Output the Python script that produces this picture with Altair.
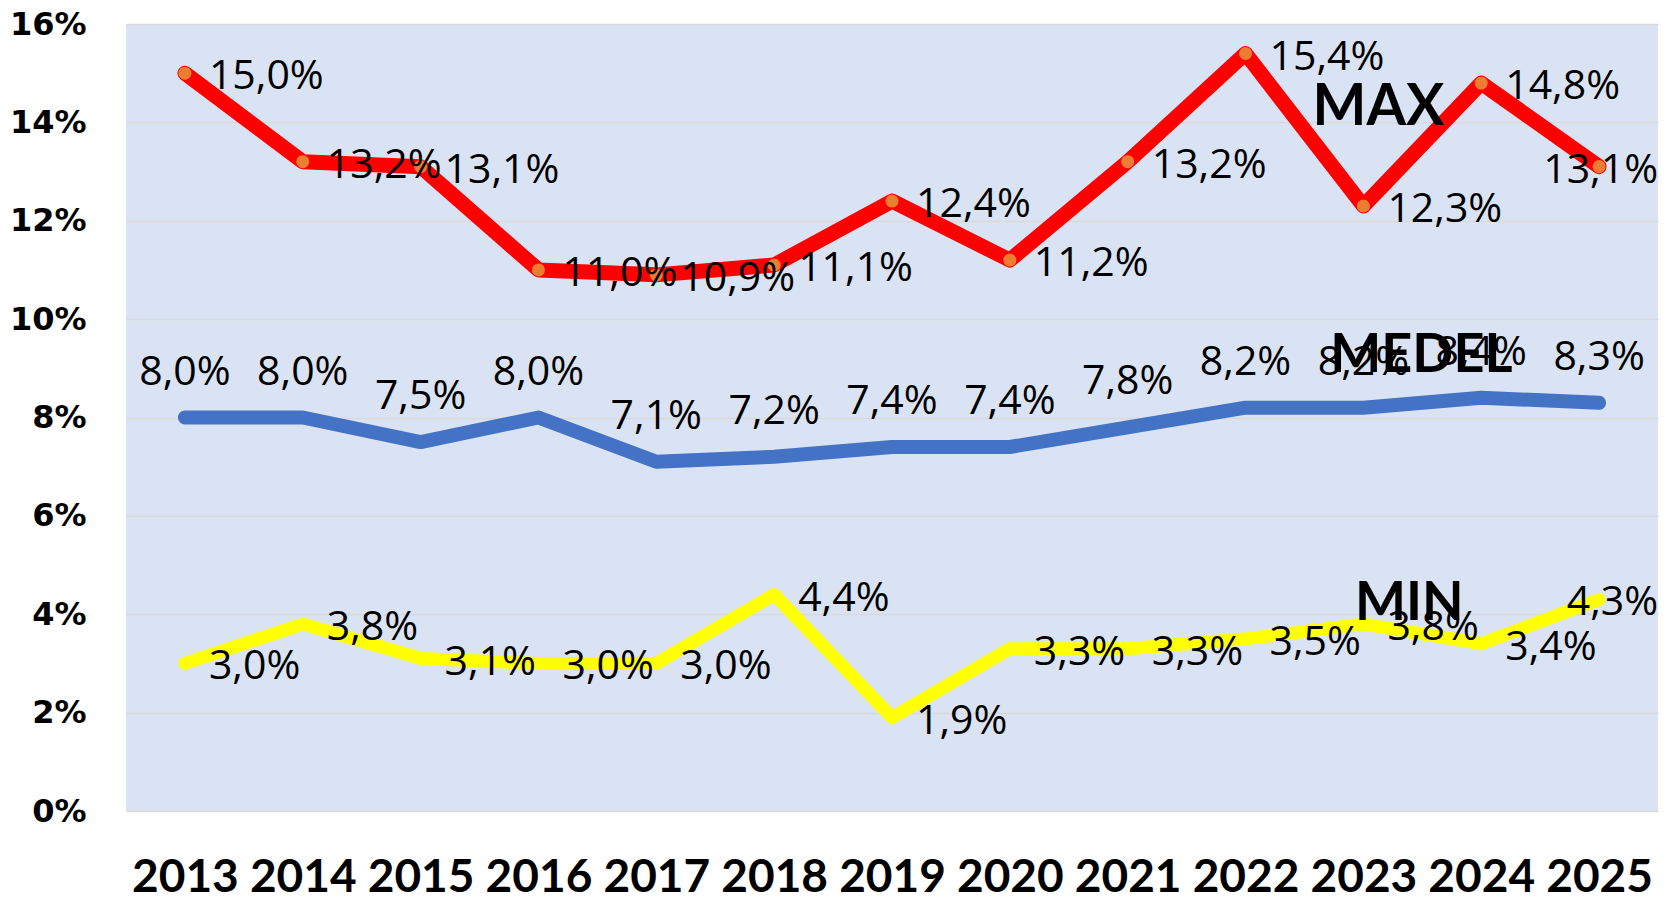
import altair as alt
import pandas as pd

years = [str(y) for y in range(2013, 2026)]
max_vals = [15.0, 13.2, 13.1, 11.0, 10.9, 11.1, 12.4, 11.2, 13.2, 15.4, 12.3, 14.8, 13.1]
medel_vals = [8.0, 8.0, 7.5, 8.0, 7.1, 7.2, 7.4, 7.4, 7.8, 8.2, 8.2, 8.4, 8.3]
min_vals = [3.0, 3.8, 3.1, 3.0, 3.0, 4.4, 1.9, 3.3, 3.3, 3.5, 3.8, 3.4, 4.3]
y_ticks = [0, 2, 4, 6, 8, 10, 12, 14, 16]

series_names = ["MAX", "MEDEL", "MIN"]
series_colors = ["#FF0000", "#4472C4", "#FFFF00"]
series_widths = [15, 13, 13]
name_years = ["2023", "2023", "2023"]
name_vals = [14.3, 9.25, 4.2]
name_dx = [15, 58, 46]
name_sizes = [57, 54, 54]

rows = []
for name, vals in zip(series_names, [max_vals, medel_vals, min_vals]):
    for yr, v in zip(years, vals):
        rows.append({"yr": yr, "series": name, "val": v,
                     "lbl": f"{v:.1f}".replace(".", ",") + "%"})
df = pd.DataFrame(rows)

x_enc = alt.X("yr:O", sort=years,
              scale=alt.Scale(type="point", padding=0.5),
              axis=alt.Axis(title=None, labelAngle=0, ticks=False, tickSize=0, domain=False,
                            grid=False, labelFont="Lato", labelFontWeight="bold",
                            labelFontSize=46, labelColor="#000000",
                            labelBaseline="middle", labelPadding=66))
y_enc = alt.Y("val:Q", scale=alt.Scale(domain=[0, 16], nice=False),
              axis=alt.Axis(title=None, values=y_ticks, labelExpr="datum.value + '%'",
                            ticks=False, tickSize=0, domain=False, grid=True,
                            gridColor="#D9D9D9", gridWidth=1.5,
                            labelFont="DejaVu Sans", labelFontWeight="bold",
                            labelFontSize=32, labelColor="#000000", labelPadding=40))

base = alt.Chart(df)

lines = base.mark_line(strokeCap="round", strokeJoin="round").encode(
    x=x_enc, y=y_enc,
    color=alt.Color("series:N", scale=alt.Scale(domain=series_names, range=series_colors), legend=None),
    strokeWidth=alt.StrokeWidth("series:N", scale=alt.Scale(domain=series_names, range=series_widths), legend=None),
    detail="series:N",
)

pts = base.transform_filter(alt.datum.series == "MAX").mark_circle(
    size=170, color="#ED7D31", opacity=1).encode(x=x_enc, y=y_enc)

lab_font = dict(font="Open Sans", fontSize=41, color="#000000")

lab_right = base.transform_filter(
    "(datum.series == 'MAX' || datum.series == 'MIN') && datum.yr != '2025'"
).mark_text(align="left", baseline="middle", dx=24, dy=4, **lab_font).encode(
    x=x_enc, y=y_enc, text="lbl:N")

lab_last = base.transform_filter(
    "(datum.series == 'MAX' || datum.series == 'MIN') && datum.yr == '2025'"
).mark_text(align="right", baseline="middle", dx=59, dy=4, **lab_font).encode(
    x=x_enc, y=y_enc, text="lbl:N")

lab_mid = base.transform_filter(alt.datum.series == "MEDEL").mark_text(
    align="center", baseline="middle", dy=-45, **lab_font).encode(
    x=x_enc, y=y_enc, text="lbl:N")

name_df = pd.DataFrame({"yr": name_years, "val": name_vals, "name": series_names})
name_layers = []
for nm, dx, fs in zip(series_names, name_dx, name_sizes):
    name_layers.append(
        alt.Chart(name_df).transform_filter(alt.datum.name == nm).mark_text(
            align="center", baseline="middle", dx=dx, font="Lato", fontWeight="bold",
            fontSize=fs, color="#000000").encode(x=x_enc, y=y_enc, text="name:N"))

chart = alt.layer(lines, pts, lab_right, lab_last, lab_mid, *name_layers).properties(
    width=1532, height=787,
    autosize=alt.AutoSizeParams(type="none"),
    padding={"left": 118, "top": 16, "right": 9, "bottom": 88},
    background="#FFFFFF",
).configure_view(fill="#DAE3F3", strokeWidth=0)

chart.save("out.html", embed_options={"renderer": "svg", "actions": False})
